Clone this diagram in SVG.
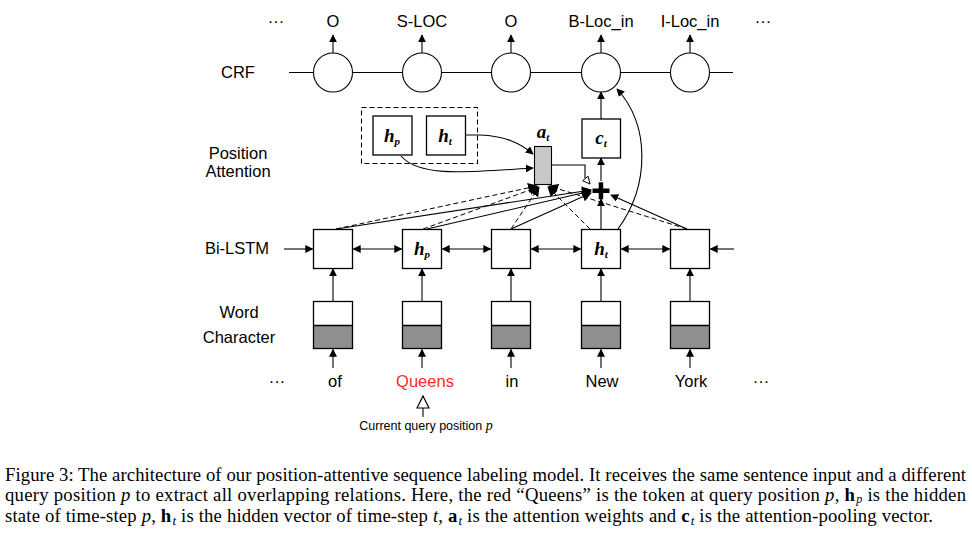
<svg xmlns="http://www.w3.org/2000/svg" width="972" height="533" viewBox="0 0 972 533">
<defs>
<marker id="ah" viewBox="0 0 10 10" refX="9" refY="5" markerWidth="8" markerHeight="8" markerUnits="userSpaceOnUse" orient="auto-start-reverse">
<path d="M0,0 L10,5 L0,10 z" fill="#000"/>
</marker>
<marker id="ahL" viewBox="0 0 10 10" refX="9" refY="5" markerWidth="10" markerHeight="10" markerUnits="userSpaceOnUse" orient="auto">
<path d="M0,0 L10,5 L0,10 z" fill="#000"/>
</marker>
<marker id="open" viewBox="0 0 10 10" refX="9" refY="5" markerWidth="9" markerHeight="9" markerUnits="userSpaceOnUse" orient="auto">
<path d="M1,1 L9,5 L1,9 z" fill="#fff" stroke="#000" stroke-width="1"/>
</marker>
<marker id="openBig" viewBox="0 0 10 10" refX="9" refY="5" markerWidth="15" markerHeight="15" markerUnits="userSpaceOnUse" orient="auto">
<path d="M1,1 L9,5 L1,9 z" fill="#fff" stroke="#000" stroke-width="0.8"/>
</marker>
</defs>
<style>
.lbl{font-family:"Liberation Sans",Arial,sans-serif;font-size:16.5px;fill:#000;text-anchor:middle}
.sym{font-family:"Liberation Serif","Times New Roman",serif;font-weight:bold;font-style:italic;font-size:19px;fill:#000;text-anchor:middle}
.sub{font-size:11px}
.box{fill:#fff;stroke:#000;stroke-width:1.3}
.circ{fill:#fff;stroke:#000;stroke-width:1.1}
.ln{fill:none;stroke:#000;stroke-width:1.1}
.dash{fill:none;stroke:#000;stroke-width:1;stroke-dasharray:5,3}
.cap{font-family:"Liberation Serif","Times New Roman",serif;font-size:18.7px;fill:#000}
</style>
<rect width="972" height="533" fill="#fff"/>

<g id="labels">
<text class="lbl" x="238" y="78">CRF</text>
<text class="lbl" x="238" y="159">Position</text>
<text class="lbl" x="238" y="177">Attention</text>
<text class="lbl" x="237" y="254">Bi-LSTM</text>
<text class="lbl" x="239" y="318">Word</text>
<text class="lbl" x="239" y="343">Character</text>
<text class="lbl" x="276" y="27">···</text>
<text class="lbl" x="763" y="27">···</text>
<text class="lbl" x="277" y="387">···</text>
<text class="lbl" x="761" y="387">···</text>
</g>

<g id="connectors">
<line class="ln" x1="289" y1="72.5" x2="733" y2="72.5"/>
<line class="ln" x1="333" y1="53" x2="333" y2="35" marker-end="url(#ah)"/>
<line class="ln" x1="422" y1="53" x2="422" y2="35" marker-end="url(#ah)"/>
<line class="ln" x1="511" y1="53" x2="511" y2="35" marker-end="url(#ah)"/>
<line class="ln" x1="601" y1="53" x2="601" y2="35" marker-end="url(#ah)"/>
<line class="ln" x1="690" y1="53" x2="690" y2="35" marker-end="url(#ah)"/>
<line class="ln" x1="601" y1="119" x2="601" y2="92" marker-end="url(#ah)"/>
<line class="ln" x1="601" y1="181" x2="601" y2="158" marker-end="url(#ah)"/>
<path class="ln" d="M618,229 C650,185 650,125 617,89" marker-end="url(#ah)"/>
<path class="ln" d="M465,135 L480,135 C505,136 520,143 533,154" marker-end="url(#ah)"/>
<path class="ln" d="M401,156 C420,178 470,172 533,168" marker-end="url(#ah)"/>
<polyline class="ln" points="551.5,165 585,165 585,178"/>
<path class="ln" d="M585,178 L590,184" marker-end="url(#open)"/>
<line class="ln" x1="284" y1="249" x2="312.5" y2="249" marker-end="url(#ah)"/>
<line class="ln" x1="353.5" y1="249" x2="401.5" y2="249" marker-start="url(#ah)" marker-end="url(#ah)"/>
<line class="ln" x1="442.5" y1="249" x2="490.5" y2="249" marker-start="url(#ah)" marker-end="url(#ah)"/>
<line class="ln" x1="531.5" y1="249" x2="580.5" y2="249" marker-start="url(#ah)" marker-end="url(#ah)"/>
<line class="ln" x1="621.5" y1="249" x2="669.5" y2="249" marker-start="url(#ah)" marker-end="url(#ah)"/>
<line class="ln" x1="734" y1="249" x2="710.5" y2="249" marker-end="url(#ah)"/>
<line class="ln" x1="333" y1="301" x2="333" y2="269" marker-end="url(#ah)"/>
<line class="ln" x1="422" y1="301" x2="422" y2="269" marker-end="url(#ah)"/>
<line class="ln" x1="511" y1="301" x2="511" y2="269" marker-end="url(#ah)"/>
<line class="ln" x1="601" y1="301" x2="601" y2="269" marker-end="url(#ah)"/>
<line class="ln" x1="690" y1="301" x2="690" y2="269" marker-end="url(#ah)"/>
<line class="ln" x1="333" y1="368" x2="333" y2="349.5" marker-end="url(#ah)"/>
<line class="ln" x1="422" y1="368" x2="422" y2="349.5" marker-end="url(#ah)"/>
<line class="ln" x1="511" y1="368" x2="511" y2="349.5" marker-end="url(#ah)"/>
<line class="ln" x1="601" y1="368" x2="601" y2="349.5" marker-end="url(#ah)"/>
<line class="ln" x1="690" y1="368" x2="690" y2="349.5" marker-end="url(#ah)"/>
<line class="ln" x1="423" y1="417" x2="423" y2="396" marker-end="url(#openBig)"/>
<line class="dash" x1="336" y1="229" x2="537" y2="186" marker-end="url(#ahL)"/>
<line class="dash" x1="423" y1="229" x2="538" y2="187" marker-end="url(#ahL)"/>
<line class="dash" x1="511" y1="229" x2="539" y2="187" marker-end="url(#ahL)"/>
<line class="dash" x1="590" y1="229" x2="548" y2="187" marker-end="url(#ahL)"/>
<line class="dash" x1="687" y1="229" x2="549" y2="186" marker-end="url(#ahL)"/>
<line class="ln" x1="336" y1="229" x2="591" y2="190" marker-end="url(#ahL)"/>
<line class="ln" x1="427" y1="229" x2="591" y2="191" marker-end="url(#ahL)"/>
<line class="ln" x1="511" y1="229" x2="591" y2="193" marker-end="url(#ahL)"/>
<line class="ln" x1="601" y1="229" x2="601" y2="199" marker-end="url(#ah)"/>
<line class="ln" x1="687" y1="229" x2="611" y2="195" marker-end="url(#ah)"/>
</g>

<g id="crf1"><circle class="circ" cx="333" cy="72.5" r="19.5"/><text class="lbl" x="333" y="27">O</text></g>
<g id="crf2"><circle class="circ" cx="422" cy="72.5" r="19.5"/><text class="lbl" x="422" y="27">S-LOC</text></g>
<g id="crf3"><circle class="circ" cx="511" cy="72.5" r="19.5"/><text class="lbl" x="511" y="27">O</text></g>
<g id="crf4"><circle class="circ" cx="601" cy="72.5" r="19.5"/><text class="lbl" x="601" y="27">B-Loc_in</text></g>
<g id="crf5"><circle class="circ" cx="690" cy="72.5" r="19.5"/><text class="lbl" x="690" y="27">I-Loc_in</text></g>

<g id="query-group"><rect x="361.5" y="107.5" width="116" height="56" fill="none" stroke="#000" stroke-width="1.1" stroke-dasharray="5,3"/></g>
<g id="hp-att"><rect class="box" x="373" y="116" width="39" height="39"/><text class="sym" x="392" y="142">h<tspan class="sub" dy="3">p</tspan></text></g>
<g id="ht-att"><rect class="box" x="426.5" y="116" width="39" height="39"/><text class="sym" x="445" y="142">h<tspan class="sub" dy="3">t</tspan></text></g>
<g id="at"><rect x="534.5" y="146.5" width="17" height="38" fill="#c8c8c8" stroke="#000" stroke-width="1.1"/><text class="sym" x="543" y="138">a<tspan class="sub" dy="3">t</tspan></text></g>
<g id="ct"><rect class="box" x="582" y="119" width="38.5" height="39"/><text class="sym" x="601" y="144">c<tspan class="sub" dy="3">t</tspan></text></g>
<g id="plus"><rect x="592.5" y="188.5" width="17" height="4.5" fill="#000"/><rect x="598.7" y="182.3" width="4.5" height="17" fill="#000"/></g>

<g id="lstm1"><rect class="box" x="313.5" y="229.5" width="39" height="39"/></g>
<g id="lstm2"><rect class="box" x="402.5" y="229.5" width="39" height="39"/><text class="sym" x="422" y="255">h<tspan class="sub" dy="3">p</tspan></text></g>
<g id="lstm3"><rect class="box" x="491.5" y="229.5" width="39" height="39"/></g>
<g id="lstm4"><rect class="box" x="581.5" y="229.5" width="39" height="39"/><text class="sym" x="601" y="255">h<tspan class="sub" dy="3">t</tspan></text></g>
<g id="lstm5"><rect class="box" x="670.5" y="229.5" width="39" height="39"/></g>

<g id="emb1"><rect x="313.5" y="325.5" width="39" height="23" fill="#8f8f8f"/><rect x="313.5" y="301.5" width="39" height="47" fill="none" stroke="#000" stroke-width="1.3"/><line x1="313.5" y1="325.5" x2="352.5" y2="325.5" stroke="#000" stroke-width="1.3"/><text class="lbl" x="335" y="387">of</text></g>
<g id="emb2"><rect x="402.5" y="325.5" width="39" height="23" fill="#8f8f8f"/><rect x="402.5" y="301.5" width="39" height="47" fill="none" stroke="#000" stroke-width="1.3"/><line x1="402.5" y1="325.5" x2="441.5" y2="325.5" stroke="#000" stroke-width="1.3"/><text class="lbl" x="425" y="387" style="fill:#ff2a2a">Queens</text></g>
<g id="emb3"><rect x="491.5" y="325.5" width="39" height="23" fill="#8f8f8f"/><rect x="491.5" y="301.5" width="39" height="47" fill="none" stroke="#000" stroke-width="1.3"/><line x1="491.5" y1="325.5" x2="530.5" y2="325.5" stroke="#000" stroke-width="1.3"/><text class="lbl" x="512" y="387">in</text></g>
<g id="emb4"><rect x="581.5" y="325.5" width="39" height="23" fill="#8f8f8f"/><rect x="581.5" y="301.5" width="39" height="47" fill="none" stroke="#000" stroke-width="1.3"/><line x1="581.5" y1="325.5" x2="620.5" y2="325.5" stroke="#000" stroke-width="1.3"/><text class="lbl" x="602" y="387">New</text></g>
<g id="emb5"><rect x="670.5" y="325.5" width="39" height="23" fill="#8f8f8f"/><rect x="670.5" y="301.5" width="39" height="47" fill="none" stroke="#000" stroke-width="1.3"/><line x1="670.5" y1="325.5" x2="709.5" y2="325.5" stroke="#000" stroke-width="1.3"/><text class="lbl" x="691" y="387">York</text></g>

<g id="query-note"><text x="426" y="430" style="font-family:'Liberation Sans',Arial,sans-serif;font-size:12.5px;text-anchor:middle">Current query position <tspan style="font-family:'Liberation Serif',serif;font-style:italic;font-size:14px">p</tspan></text></g>

<g id="caption">
<text class="cap" x="5" y="481" textLength="961" lengthAdjust="spacing">Figure 3: The architecture of our position-attentive sequence labeling model. It receives the same sentence input and a different</text>
<text class="cap" x="5" y="501" textLength="961" lengthAdjust="spacing">query position <tspan font-style="italic">p</tspan> to extract all overlapping relations. Here, the red “Queens” is the token at query position <tspan font-style="italic">p</tspan>, <tspan font-weight="bold">h</tspan><tspan font-style="italic" font-size="12" dx="1" dy="2">p</tspan><tspan dy="-2"> is the hidden</tspan></text>
<text class="cap" x="5" y="522" textLength="928" lengthAdjust="spacing">state of time-step <tspan font-style="italic">p</tspan>, <tspan font-weight="bold">h</tspan><tspan font-style="italic" font-size="13" dx="1" dy="3">t</tspan><tspan dy="-3"> is the hidden vector of time-step </tspan><tspan font-style="italic">t</tspan>, <tspan font-weight="bold">a</tspan><tspan font-style="italic" font-size="13" dx="1" dy="3">t</tspan><tspan dy="-3"> is the attention weights and </tspan><tspan font-weight="bold">c</tspan><tspan font-style="italic" font-size="13" dx="1" dy="3">t</tspan><tspan dy="-3"> is the attention-pooling vector.</tspan></text>
</g>
</svg>
